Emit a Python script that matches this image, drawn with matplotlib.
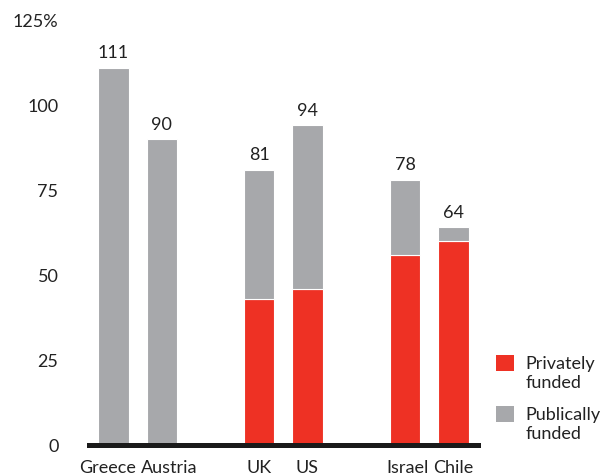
import matplotlib.pyplot as plt
import matplotlib.patches as mpatches
from matplotlib.container import BarContainer
from matplotlib.legend_handler import HandlerPatch
from matplotlib.transforms import ScaledTranslation

plt.rcParams['font.family'] = ['Lato', 'DejaVu Sans']

# 数据
countries = ['Greece', 'Austria', 'UK', 'US', 'Israel', 'Chile']
positions = [0, 1, 3, 4, 6, 7]
private = [0, 0, 43, 46, 56, 60]
public = [111, 90, 38, 48, 22, 4]
totals = [111, 90, 81, 94, 78, 64]
# 标签水平微调(像素)
label_shift = [-6, 7, 0, -1, 3, 0]

red = '#EE3124'
gray = '#A7A8AB'
txt = '#222222'

fig = plt.figure(figsize=(6.03, 4.77), dpi=100)
ax = fig.add_axes([0.1476, 0.065, 0.645, 0.891])

ax.bar(positions, private, width=0.63, color=red, edgecolor='white', linewidth=0.8, label='Privately\nfunded')
ax.bar(positions, public, width=0.63, bottom=private, color=gray, edgecolor='white', linewidth=0.8, label='Publically\nfunded')

for x, t in zip(positions, totals):
    ax.text(x, t + 2.2, str(t), ha='center', va='bottom', fontsize=13, color=txt)

ax.set_xlim(-0.5, 7.5)
ax.set_ylim(0, 125)
ax.set_xticks(positions)
ax.set_xticklabels(countries, fontsize=13, color=txt)
ax.set_yticks([0, 25, 50, 75, 100, 125])
ax.set_yticklabels(['0', '25', '50', '75', '100', '125%'], fontsize=13, color=txt)
ax.tick_params(axis='y', length=0, pad=22)
ax.tick_params(axis='x', length=0, pad=10)

for lab, dx in zip(ax.get_xticklabels(), label_shift):
    lab.set_transform(lab.get_transform() + ScaledTranslation(dx / 100, 0, fig.dpi_scale_trans))

for s in ['top', 'right', 'left']:
    ax.spines[s].set_visible(False)
ax.spines['bottom'].set_linewidth(3.6)
ax.spines['bottom'].set_color('#1a1a1a')


# 图例方块与第一行文字对齐
def square(legend, orig_handle, xdescent, ydescent, width, height, fontsize):
    return mpatches.Rectangle((-xdescent, -ydescent + 0.55 * fontsize), width, height)


def first_child(tgt, src):
    tgt.update_from(src.patches[0])
    tgt.set_edgecolor('none')


ax.legend(loc='upper left', bbox_to_anchor=(0.795, 0.287), bbox_transform=fig.transFigure,
          frameon=False, fontsize=13, handlelength=1, handleheight=1,
          handletextpad=0.65, labelspacing=0.9, labelcolor=txt,
          handler_map={BarContainer: HandlerPatch(patch_func=square, update_func=first_child)})

plt.savefig('out.png')
